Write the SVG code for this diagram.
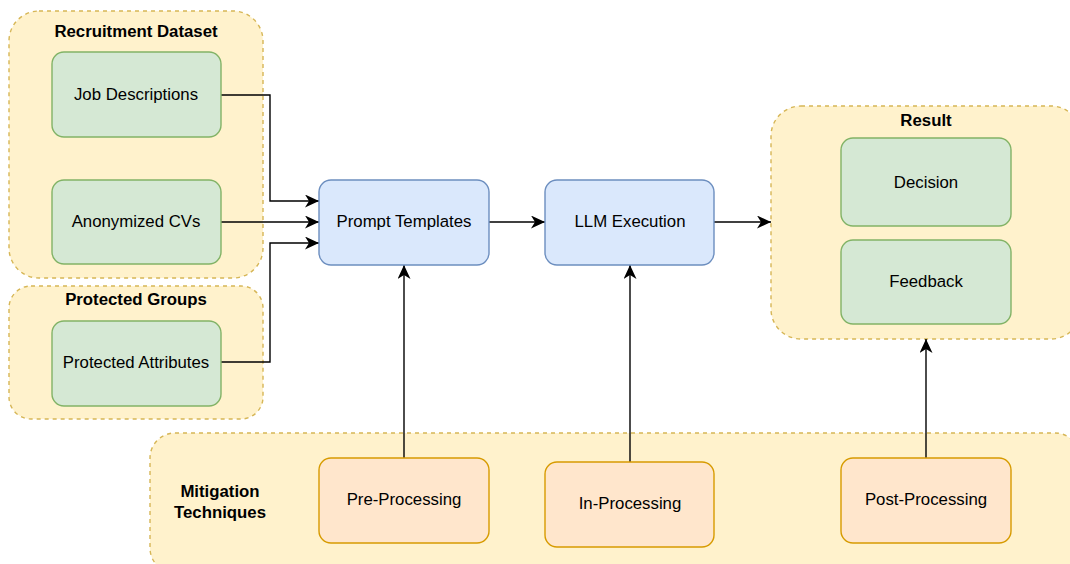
<svg xmlns="http://www.w3.org/2000/svg" width="1070" height="564" viewBox="0 0 1070 564">
  <style>
    .group { fill: #fff2cc; stroke: #d6b656; stroke-width: 1.4; stroke-dasharray: 4 4; }
    .green { fill: #d5e8d4; stroke: #82b366; stroke-width: 1.4; }
    .blue { fill: #dae8fc; stroke: #6c8ebf; stroke-width: 1.4; }
    .orange { fill: #ffe6cc; stroke: #d79b00; stroke-width: 1.4; }
    .label { font-family: "Liberation Sans", Arial, sans-serif; font-size: 16.8px; fill: #000; text-anchor: middle; }
    .title { font-family: "Liberation Sans", Arial, sans-serif; font-size: 16.8px; font-weight: bold; fill: #000; text-anchor: middle; }
    .edge { fill: none; stroke: #000; stroke-width: 1.4; marker-end: url(#arrow); }
  </style>
  <defs>
    <!-- classic block arrowhead -->
    <marker id="arrow" markerUnits="userSpaceOnUse" markerWidth="15" markerHeight="13" viewBox="0 0 15 13" refX="14" refY="6.5" orient="auto">
      <path d="M0,0 L14,6.5 L0,13 L4,6.5 Z" fill="#000"/>
    </marker>
  </defs>

  <rect width="1070" height="564" fill="#ffffff"/>

  <!-- containers -->
  <g id="recruitment-dataset">
    <rect class="group" x="9" y="11" width="254" height="267" rx="30"/>
    <text class="title" x="136" y="37">Recruitment Dataset</text>
  </g>
  <g id="protected-groups">
    <rect class="group" x="9" y="286" width="254" height="133" rx="22"/>
    <text class="title" x="136" y="305">Protected Groups</text>
  </g>
  <g id="result">
    <rect class="group" x="771" y="106" width="310" height="233" rx="30"/>
    <text class="title" x="926" y="126">Result</text>
  </g>
  <g id="mitigation-techniques">
    <rect class="group" x="150" y="433" width="930" height="140" rx="25"/>
    <text class="title" x="220" y="497">Mitigation</text>
    <text class="title" x="220" y="518">Techniques</text>
  </g>

  <!-- connectors -->
  <g id="connectors">
    <path class="edge" d="M221,95 H270 V201 H319"/>
    <path class="edge" d="M221,222 H319"/>
    <path class="edge" d="M221,362 H270 V243 H319"/>
    <path class="edge" d="M489,222 H545"/>
    <path class="edge" d="M714,222 H771"/>
    <path class="edge" d="M404,458 V265"/>
    <path class="edge" d="M630,462 V265"/>
    <path class="edge" d="M926,458 V339"/>
  </g>

  <!-- nodes -->
  <g id="job-descriptions">
    <rect class="green" x="52" y="52" width="169" height="85" rx="12"/>
    <text class="label" x="136" y="100">Job Descriptions</text>
  </g>
  <g id="anonymized-cvs">
    <rect class="green" x="52" y="180" width="169" height="84" rx="12"/>
    <text class="label" x="136" y="227">Anonymized CVs</text>
  </g>
  <g id="protected-attributes">
    <rect class="green" x="52" y="321" width="169" height="85" rx="12"/>
    <text class="label" x="136" y="368">Protected Attributes</text>
  </g>
  <g id="prompt-templates">
    <rect class="blue" x="319" y="180" width="170" height="85" rx="12"/>
    <text class="label" x="404" y="227">Prompt Templates</text>
  </g>
  <g id="llm-execution">
    <rect class="blue" x="545" y="180" width="169" height="85" rx="12"/>
    <text class="label" x="630" y="227">LLM Execution</text>
  </g>
  <g id="decision">
    <rect class="green" x="841" y="138" width="170" height="88" rx="12"/>
    <text class="label" x="926" y="188">Decision</text>
  </g>
  <g id="feedback">
    <rect class="green" x="841" y="240" width="170" height="84" rx="12"/>
    <text class="label" x="926" y="287">Feedback</text>
  </g>
  <g id="pre-processing">
    <rect class="orange" x="319" y="458" width="170" height="85" rx="12"/>
    <text class="label" x="404" y="505">Pre-Processing</text>
  </g>
  <g id="in-processing">
    <rect class="orange" x="545" y="462" width="169" height="85" rx="12"/>
    <text class="label" x="630" y="509">In-Processing</text>
  </g>
  <g id="post-processing">
    <rect class="orange" x="841" y="458" width="170" height="85" rx="12"/>
    <text class="label" x="926" y="505">Post-Processing</text>
  </g>
</svg>
